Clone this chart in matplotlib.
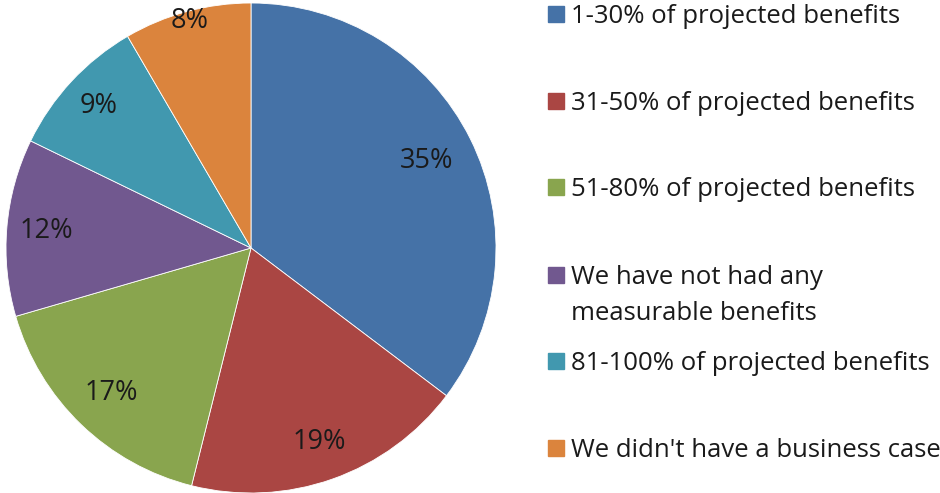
import numpy as np
import matplotlib.pyplot as plt
from matplotlib.transforms import ScaledTranslation

labels = ["1-30% of projected benefits", "31-50% of projected benefits",
          "51-80% of projected benefits", "We have not had any\nmeasurable benefits",
          "81-100% of projected benefits", "We didn't have a business case"]
# shares; they round to the printed labels
values = [35.3, 18.6, 16.6, 11.7, 9.4, 8.4]
colors = ["#4572A7", "#AA4643", "#89A54E", "#71588F", "#4198AF", "#DB843D"]

plt.rcParams['font.family'] = ['Open Sans', 'DejaVu Sans']

fig = plt.figure(figsize=(9.4, 4.93), dpi=100)
W, H = 940, 493
cx, cy, r = 251, 248, 245
ax = fig.add_axes([(cx - r) / W, (H - cy - r) / H, 2 * r / W, 2 * r / H])

wedges, texts, autotexts = ax.pie(values, colors=colors, startangle=90, counterclock=False,
                                  autopct='%.0f%%', pctdistance=0.82, radius=1,
                                  wedgeprops=dict(edgecolor='white', linewidth=0.6),
                                  textprops=dict(fontsize=19.5, color='#1a1a1a'))
# label distance from centre, Excel-style "best fit"
dists = [0.80, 0.84, 0.82, 0.84, 0.85, 0.96]
for w, t, d in zip(wedges, autotexts, dists):
    ang = np.deg2rad((w.theta1 + w.theta2) / 2)
    t.set_position((d * np.cos(ang), d * np.sin(ang)))
ax.set_xlim(-1, 1)
ax.set_ylim(-1, 1)
ax.set_aspect('auto')

# legend
ys = [14, 101, 187, 275, 361, 448]
shift = ScaledTranslation(0, -9 / 100, fig.dpi_scale_trans)
for lab, col, y in zip(labels, colors, ys):
    fig.patches.append(plt.Rectangle((548 / W, 1 - (y + 8) / H), 16 / W, 16 / H,
                                     transform=fig.transFigure, color=col))
    for i, line in enumerate(lab.split("\n")):
        fig.text(571 / W, 1 - (y + 36 * i) / H, line, fontsize=18.5, va='baseline',
                 ha='left', color='#1a1a1a', transform=fig.transFigure + shift)

fig.savefig("out.png", dpi=100)
